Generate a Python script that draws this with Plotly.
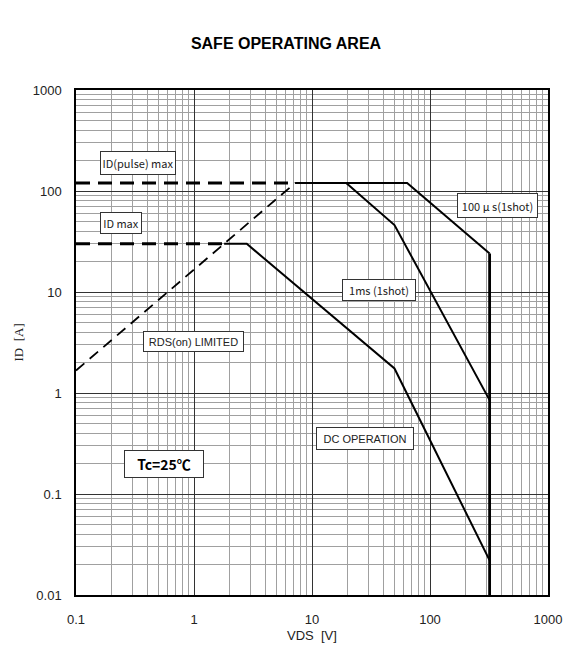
import math
import plotly.graph_objects as go

# Safe operating area of a power MOSFET, Tc = 25 degC (log-log)
vds_pulse_max = [0.1, 7.2]          # ID(pulse) max limit, V
id_pulse_max = [120, 120]           # A
vds_id_max = [0.1, 1.8]             # ID max limit, V
id_id_max = [30, 30]                # A
vds_rds = [0.1, 7.2]                # RDS(on) limited line, V
id_rds = [1.67, 120]                # A

vds_100us = [7.2, 64, 320]          # 100 us single pulse
id_100us = [120, 120, 24]
vds_1ms = [7.2, 19.5, 50, 320]      # 1 ms single pulse
id_1ms = [120, 120, 46, 0.85]
vds_dc = [1.8, 2.8, 50, 320]        # DC operation
id_dc = [30, 30, 1.75, 0.022]
vds_vdss = [320, 320]               # drain-source voltage limit
id_vdss = [24, 0.01]

x_ticks = [0.1, 1, 10, 100, 1000]
x_tick_text = ["0.1", "1", "10", "100", "1000"]
y_ticks = [0.01, 0.1, 1, 10, 100, 1000]
y_tick_text = ["0.01", "0.1", "1", "10", "100", "1000"]

W, H = 572, 646
ML, MR, MT, MB = 76, 24, 90, 51
PW, PH = W - ML - MR, H - MT - MB


def minor_vals(lo_exp, hi_exp):
    return [m * 10 ** e for e in range(lo_exp, hi_exp) for m in range(2, 10)]


fig = go.Figure()

dash_thick = "14px,8px"
dash_thin = "11px,7px"

fig.add_trace(go.Scatter(x=vds_pulse_max, y=id_pulse_max, mode="lines",
                         line=dict(color="black", width=3, dash=dash_thick)))
fig.add_trace(go.Scatter(x=vds_id_max, y=id_id_max, mode="lines",
                         line=dict(color="black", width=3, dash=dash_thick)))
fig.add_trace(go.Scatter(x=vds_rds, y=id_rds, mode="lines",
                         line=dict(color="black", width=1.8, dash=dash_thin)))
for xs, ys in [(vds_100us, id_100us), (vds_1ms, id_1ms), (vds_dc, id_dc)]:
    fig.add_trace(go.Scatter(x=xs, y=ys, mode="lines",
                             line=dict(color="black", width=2)))
fig.add_trace(go.Scatter(x=vds_vdss, y=id_vdss, mode="lines",
                         line=dict(color="black", width=2.8)))

sans = "Liberation Sans, Arial, sans-serif"
label_font = dict(family=sans, size=11, color="#222")
gothic_font = dict(family="Noto Sans CJK JP, Liberation Sans, sans-serif", size=11, color="#222")

# (text, VDS, ID, box width, box height, font)
labels = [
    ("ID(pulse) max", 0.335, 190.3, 74, 22, gothic_font),
    ("ID max", 0.24, 47.7, 40, 20, gothic_font),
    ("100 μ s(1shot)", 376.7, 72.4, 79, 23, gothic_font),
    ("1ms (1shot)", 36.9, 10.35, 72, 20, gothic_font),
    ("RDS(on) LIMITED", 0.987, 3.23, 99, 19, label_font),
    ("<b>Tc=25℃</b>", 0.56, 0.196, 78, 26,
     dict(family="Noto Sans CJK JP, Liberation Sans, sans-serif", size=14, color="black")),
    ("DC OPERATION", 28.2, 0.353, 96, 21, label_font),
]
for text, xv, yv, w, h, f in labels:
    fig.add_annotation(x=math.log10(xv), y=math.log10(yv), xref="x", yref="y",
                       text=text, showarrow=False, font=f, width=w, height=h,
                       align="center", valign="middle", bgcolor="white",
                       bordercolor="#333", borderwidth=1, borderpad=0)

# axis titles
fig.add_annotation(x=0.5, y=-(635 - (H - MB)) / PH, xref="paper", yref="paper",
                   text="VDS  [V]", showarrow=False, xanchor="center", yanchor="middle",
                   font=dict(family=sans, size=13, color="#222"))
fig.add_annotation(x=-(ML - 18) / PW, y=0.5, xref="paper", yref="paper",
                   text="ID  [A]", showarrow=False, textangle=-90,
                   xanchor="center", yanchor="middle",
                   font=dict(family="Liberation Serif, DejaVu Serif, serif", size=13, color="#222"))

grid_major = "#333333"
grid_minor = "#a0a0a0"
tick_font = dict(family=sans, size=13, color="#222")

fig.update_xaxes(type="log", range=[-1, 3], tickmode="array",
                 tickvals=x_ticks, ticktext=x_tick_text,
                 showgrid=True, gridcolor=grid_major, gridwidth=1.2,
                 minor=dict(tickvals=minor_vals(-1, 3), showgrid=True,
                            gridcolor=grid_minor, gridwidth=1.2),
                 showline=True, linecolor="black", linewidth=1.5, mirror=True,
                 ticks="", ticklabelstandoff=12, zeroline=False, automargin=False,
                 tickfont=tick_font)
fig.update_yaxes(type="log", range=[-2, 3], tickmode="array",
                 tickvals=y_ticks, ticktext=y_tick_text,
                 showgrid=True, gridcolor=grid_major, gridwidth=1.2,
                 minor=dict(tickvals=minor_vals(-2, 3), showgrid=True,
                            gridcolor=grid_minor, gridwidth=1.2),
                 showline=True, linecolor="black", linewidth=1.5, mirror=True,
                 ticks="", ticklabelstandoff=10, zeroline=False, automargin=False,
                 tickfont=tick_font)

fig.update_layout(
    width=W, height=H,
    margin=dict(l=ML, r=MR, t=MT, b=MB),
    paper_bgcolor="white", plot_bgcolor="white",
    showlegend=False,
    title=dict(text="<b>SAFE OPERATING AREA</b>", x=0.5, xref="container",
               y=1 - 43 / H, yref="container", xanchor="center", yanchor="middle",
               font=dict(family=sans, size=16, color="black")),
)

fig.write_html("out.html")
